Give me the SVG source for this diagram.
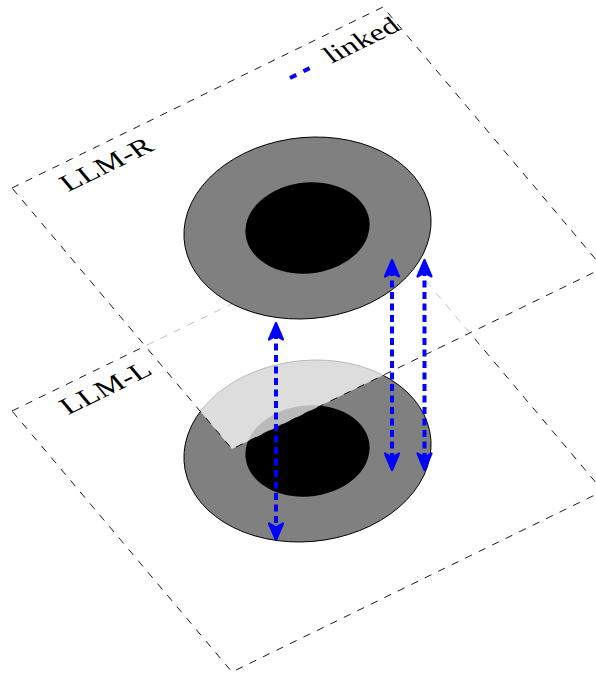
<svg xmlns="http://www.w3.org/2000/svg" width="596" height="677" viewBox="0 0 596 677">
  <defs>
    <style>
      .plane { stroke: #000; stroke-width: 0.9; stroke-dasharray: 7.5 7.5; }
      .outer { fill: #808080; stroke: #000; stroke-width: 1; }
      .inner { fill: #000; stroke: none; }
      .lbl { font-family: "Liberation Serif", "DejaVu Serif", serif; font-size: 7.6px; fill: #000; }
      .link { stroke: #0000ff; stroke-width: 4; stroke-dasharray: 7 4.5; fill: none; }
    </style>
    <marker id="ah-end" markerUnits="userSpaceOnUse" markerWidth="30" markerHeight="30" refX="0" refY="0" viewBox="-15 -15 30 30" orient="auto" overflow="visible">
      <path d="M 9 0 L -7.5 -7 L -3.5 0 L -7.5 7 Z" fill="#0000ff" stroke="#0000ff" stroke-width="2.2" stroke-linejoin="round" stroke-dasharray="none"/>
    </marker>
    <marker id="ah-start" markerUnits="userSpaceOnUse" markerWidth="30" markerHeight="30" refX="0" refY="0" viewBox="-15 -15 30 30" orient="auto" overflow="visible">
      <path d="M -9 0 L 7.5 -7 L 3.5 0 L 7.5 7 Z" fill="#0000ff" stroke="#0000ff" stroke-width="2.2" stroke-linejoin="round" stroke-dasharray="none"/>
    </marker>
  </defs>

  <rect x="0" y="0" width="596" height="677" fill="#fff"/>

  <!-- lower plane LLM-L -->
  <g id="plane-L">
    <polygon class="plane" points="12,411 383,230 603,491 232,672" fill="#fff"/>
    <g transform="matrix(3.71,-1.81,2.2,2.61,12,411)">
      <text class="lbl" x="10" y="8.6">LLM-L</text>
    </g>
  </g>

  <!-- lower disk -->
  <g id="disk-L" transform="matrix(3.71,-1.81,2.2,2.61,12,411)">
    <circle class="outer" cx="50" cy="50" r="28.65" vector-effect="non-scaling-stroke"/>
    <circle class="inner" cx="50" cy="50" r="14.4"/>
  </g>

  <!-- upper plane LLM-R (semi-transparent) -->
  <g id="plane-R">
    <polygon class="plane" points="12,188 383,7 603,268 232,449" fill="#fff" fill-opacity="0.73"/>
    <g transform="matrix(3.71,-1.81,2.2,2.61,12,188)">
      <text class="lbl" x="10" y="8.6">LLM-R</text>
    </g>
  </g>

  <!-- upper disk -->
  <g id="disk-R" transform="matrix(3.71,-1.81,2.2,2.61,12,188)">
    <circle class="outer" cx="50" cy="50" r="28.65" vector-effect="non-scaling-stroke"/>
    <circle class="inner" cx="50" cy="50" r="14.4"/>
  </g>

  <!-- legend -->
  <g id="legend">
    <line class="link" x1="290" y1="78" x2="314" y2="66" style="stroke-dasharray: 7 8"/>
    <g transform="matrix(3.71,-1.81,2.2,2.61,12,188)">
      <text class="lbl" x="81" y="8.6">linked</text>
    </g>
  </g>

  <!-- connectors -->
  <g id="connectors">
    <line class="link" x1="276" y1="332" x2="276" y2="531" marker-start="url(#ah-start)" marker-end="url(#ah-end)"/>
    <line class="link" x1="392" y1="269" x2="392" y2="461" marker-start="url(#ah-start)" marker-end="url(#ah-end)"/>
    <line class="link" x1="424.5" y1="269" x2="424.5" y2="461" marker-start="url(#ah-start)" marker-end="url(#ah-end)"/>
  </g>
</svg>
